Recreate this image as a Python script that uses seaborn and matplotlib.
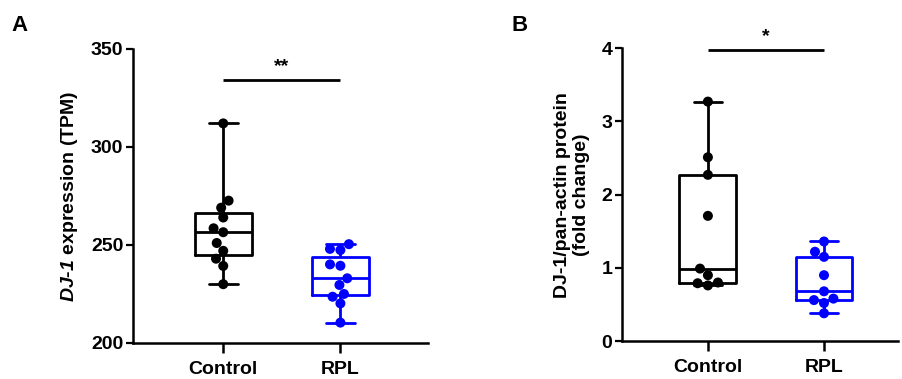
import numpy as np
import pandas as pd
import matplotlib
matplotlib.use("Agg")
import matplotlib.pyplot as plt
import seaborn as sns

# ---- data ----
groups = ["Control", "RPL"]
tpm_control = [312, 272.6, 269, 264, 258.5, 256.5, 251, 247, 243, 239.3, 230]
tpm_rpl = [250.4, 248, 247.4, 240.1, 239.4, 233, 229.6, 225, 223.6, 220.2, 210.4]
prot_control = [3.27, 2.51, 2.27, 1.71, 0.99, 0.90, 0.80, 0.79, 0.76]
prot_rpl = [1.36, 1.22, 1.15, 0.90, 0.68, 0.58, 0.56, 0.52, 0.38]
sig_a = ("**", 334)
sig_b = ("*", 3.97)
yticks_a = [200, 250, 300, 350]
yticks_b = [0, 1, 2, 3, 4]

sns.set_style("ticks")
plt.rcParams["font.family"] = ["Liberation Sans", "DejaVu Sans"]
plt.rcParams["font.weight"] = "bold"
plt.rcParams["mathtext.fontset"] = "custom"
plt.rcParams["mathtext.bfit"] = "Liberation Sans:bold:italic"
plt.rcParams["mathtext.it"] = "Liberation Sans:italic"
plt.rcParams["mathtext.rm"] = "Liberation Sans"
for k in ["text.color", "axes.labelcolor", "xtick.color", "ytick.color",
          "axes.edgecolor"]:
    plt.rcParams[k] = "black"

palette = {"Control": "#000000", "RPL": "#0000FF"}

fig = plt.figure(figsize=(9.03, 3.79), dpi=100)
axA = fig.add_axes([0.1473, 0.095, 0.327, 0.776])
axB = fig.add_axes([0.6888, 0.100, 0.306, 0.773])


def make_df(c, r):
    return pd.DataFrame({
        "group": ["Control"] * len(c) + ["RPL"] * len(r),
        "value": list(c) + list(r),
    })


def draw(ax, df, ylim, yticks, sig, ylabel, xlim):
    sns.boxplot(data=df, x="group", y="value", hue="group", order=groups,
                hue_order=groups, palette=palette, fill=False, width=0.49,
                whis=(0, 100), linewidth=2.0, legend=False, ax=ax, zorder=2)
    sns.swarmplot(data=df, x="group", y="value", hue="group", order=groups,
                  hue_order=groups, palette=palette, size=7.2, legend=False,
                  ax=ax, zorder=3)
    ax.set_ylim(*ylim)
    ax.set_xlim(*xlim)
    ax.set_yticks(yticks)
    ax.set_xlabel("")
    ax.set_ylabel(ylabel, fontsize=14, fontweight="bold", labelpad=8,
                  color="black")
    for s in ["top", "right"]:
        ax.spines[s].set_visible(False)
    for s in ["left", "bottom"]:
        ax.spines[s].set_linewidth(1.8)
        ax.spines[s].set_color("black")
    ax.tick_params(axis="y", length=5, width=1.6, labelsize=14, pad=2,
                   colors="black")
    ax.tick_params(axis="x", length=7, width=1.8, labelsize=14, pad=6,
                   colors="black")
    for lab in ax.get_xticklabels() + ax.get_yticklabels():
        lab.set_fontweight("bold")
    ax.plot([0, 1], [sig[1], sig[1]], color="black", lw=2, clip_on=False,
            solid_capstyle="butt")
    ax.annotate(sig[0], xy=(0.5, sig[1]), xytext=(0, 4),
                textcoords="offset points", ha="center", va="bottom",
                fontsize=14, fontweight="bold", color="black")


draw(axA, make_df(tpm_control, tpm_rpl), (200, 350), yticks_a, sig_a,
     r"$\mathbfit{DJ}$-$\mathbfit{1}$ expression (TPM)", (-0.77, 1.75))
draw(axB, make_df(prot_control, prot_rpl), (0, 4), yticks_b, sig_b,
     "DJ-1/pan-actin protein\n(fold change)", (-0.74, 1.64))

fig.text(0.013, 0.96, "A", fontsize=16, fontweight="bold", va="top",
         color="black")
fig.text(0.566, 0.96, "B", fontsize=16, fontweight="bold", va="top",
         color="black")

fig.savefig("out.png", dpi=100)
